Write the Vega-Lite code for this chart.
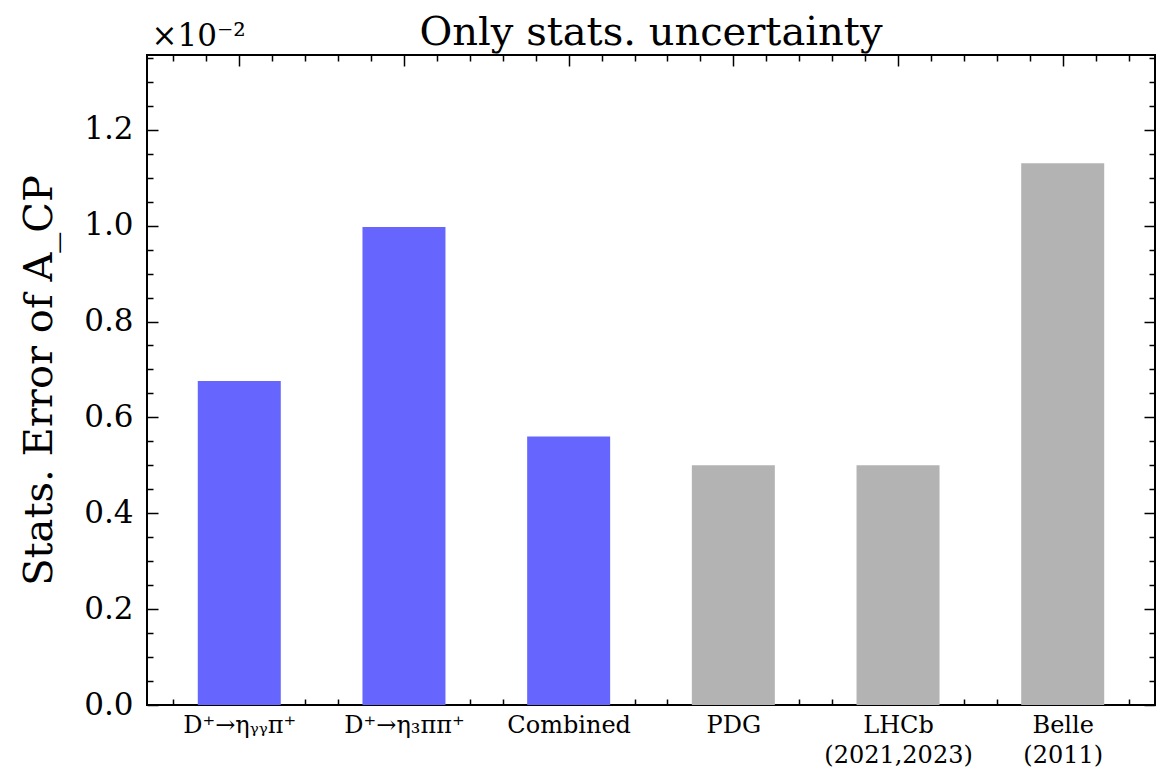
{
  "$schema": "https://vega.github.io/schema/vega-lite/v6.json",
  "width": 1008,
  "height": 650,
  "autosize": {"type": "none"},
  "padding": {"left": 147, "top": 55, "right": 2, "bottom": 69},
  "background": "white",
  "title": {
    "text": "Only stats. uncertainty",
    "font": "DejaVu Serif",
    "fontSize": 40,
    "fontWeight": "normal",
    "color": "black",
    "anchor": "middle",
    "frame": "group",
    "baseline": "alphabetic",
    "offset": -65
  },
  "data": {
    "values": [
      {"i": 0, "name": "D⁺→ηᵧᵧπ⁺", "v": 0.676, "src": "new"},
      {"i": 1, "name": "D⁺→η₃ππ⁺", "v": 0.997, "src": "new"},
      {"i": 2, "name": "Combined", "v": 0.56, "src": "new"},
      {"i": 3, "name": "PDG", "v": 0.5, "src": "ref"},
      {"i": 4, "name": "LHCb (2021,2023)", "v": 0.5, "src": "ref"},
      {"i": 5, "name": "Belle (2011)", "v": 1.13, "src": "ref"}
    ]
  },
  "encoding": {
    "x": {"field": "i", "type": "quantitative", "scale": {"domain": [-0.53, 5.53], "nice": false, "zero": false}},
    "y": {"field": "v", "type": "quantitative", "scale": {"domain": [0, 1.356], "nice": false, "zero": true}},
    "color": {"field": "src", "type": "nominal", "scale": {"domain": ["new", "ref"], "range": ["#6666ff", "#b3b3b3"]}, "legend": null}
  },
  "layer": [
    {
      "mark": {"type": "bar", "size": 83},
      "encoding": {
        "x": {"field": "i", "type": "quantitative", "axis": {
          "orient": "bottom", "values": [0, 1, 2, 3, 4, 5], "ticks": false, "title": null,
          "labelExpr": "[['D⁺→ηᵧᵧπ⁺'], ['D⁺→η₃ππ⁺'], ['Combined'], ['PDG'], ['LHCb', '(2021,2023)'], ['Belle', '(2011)']][datum.value]",
          "labelFontSize": 24, "labelPadding": 8, "labelLineHeight": 30, "labelBaseline": "top"
        }},
        "y": {"field": "v", "type": "quantitative", "axis": {
          "orient": "left", "values": [0, 0.2, 0.4, 0.6, 0.8, 1.0, 1.2], "format": ".1f", "ticks": false,
          "labelFontSize": 31, "labelPadding": 14,
          "title": "Stats. Error of A_CP", "titleFont": "DejaVu Serif", "titleFontSize": 40, "titleFontWeight": "normal", "titleColor": "black", "titlePadding": 24
        }}
      }
    },
    {
      "mark": {"type": "bar", "size": 83, "opacity": 0},
      "encoding": {
        "x": {"field": "i", "type": "quantitative", "axis": {"orient": "bottom", "values": [0, 1, 2, 3, 4, 5], "labels": false, "tickSize": -11, "title": null}},
        "y": {"field": "v", "type": "quantitative", "axis": {"orient": "left", "values": [0, 0.2, 0.4, 0.6, 0.8, 1.0, 1.2], "labels": false, "tickSize": -11, "title": null}}
      }
    },
    {
      "mark": {"type": "bar", "size": 83, "opacity": 0},
      "encoding": {
        "x": {"field": "i", "type": "quantitative", "axis": {"orient": "bottom", "values": [-0.4, -0.2, 0.2, 0.4, 0.6, 0.8, 1.2, 1.4, 1.6, 1.8, 2.2, 2.4, 2.6, 2.8, 3.2, 3.4, 3.6, 3.8, 4.2, 4.4, 4.6, 4.8, 5.2, 5.4], "labels": false, "tickSize": -6, "title": null}},
        "y": {"field": "v", "type": "quantitative", "axis": {"orient": "left", "values": [0.05, 0.1, 0.15, 0.25, 0.3, 0.35, 0.45, 0.5, 0.55, 0.65, 0.7, 0.75, 0.85, 0.9, 0.95, 1.05, 1.1, 1.15, 1.25, 1.3, 1.35], "labels": false, "tickSize": -6, "title": null}}
      }
    },
    {
      "mark": {"type": "bar", "size": 83, "opacity": 0},
      "encoding": {
        "x": {"field": "i", "type": "quantitative", "axis": {"orient": "top", "values": [0, 1, 2, 3, 4, 5], "labels": false, "tickSize": -11, "title": null}},
        "y": {"field": "v", "type": "quantitative", "axis": {"orient": "right", "values": [0, 0.2, 0.4, 0.6, 0.8, 1.0, 1.2], "labels": false, "tickSize": -11, "title": null}}
      }
    },
    {
      "mark": {"type": "bar", "size": 83, "opacity": 0},
      "encoding": {
        "x": {"field": "i", "type": "quantitative", "axis": {"orient": "top", "values": [-0.4, -0.2, 0.2, 0.4, 0.6, 0.8, 1.2, 1.4, 1.6, 1.8, 2.2, 2.4, 2.6, 2.8, 3.2, 3.4, 3.6, 3.8, 4.2, 4.4, 4.6, 4.8, 5.2, 5.4], "labels": false, "tickSize": -6,
          "title": "×10⁻²", "titleFont": "DejaVu Serif", "titleFontSize": 31, "titleFontWeight": "normal", "titleColor": "black",
          "titleAngle": 0, "titleAlign": "left", "titleBaseline": "alphabetic", "titleX": 4, "titleY": -10}},
        "y": {"field": "v", "type": "quantitative", "axis": {"orient": "right", "values": [0.05, 0.1, 0.15, 0.25, 0.3, 0.35, 0.45, 0.5, 0.55, 0.65, 0.7, 0.75, 0.85, 0.9, 0.95, 1.05, 1.1, 1.15, 1.25, 1.3, 1.35], "labels": false, "tickSize": -6, "title": null}}
      }
    }
  ],
  "resolve": {"axis": {"x": "independent", "y": "independent"}},
  "config": {
    "view": {"stroke": "black", "strokeWidth": 2},
    "axis": {
      "grid": false, "domain": false, "tickColor": "black", "tickWidth": 1.5,
      "labelColor": "black", "labelFont": "DejaVu Serif", "titleFont": "DejaVu Serif"
    }
  }
}
